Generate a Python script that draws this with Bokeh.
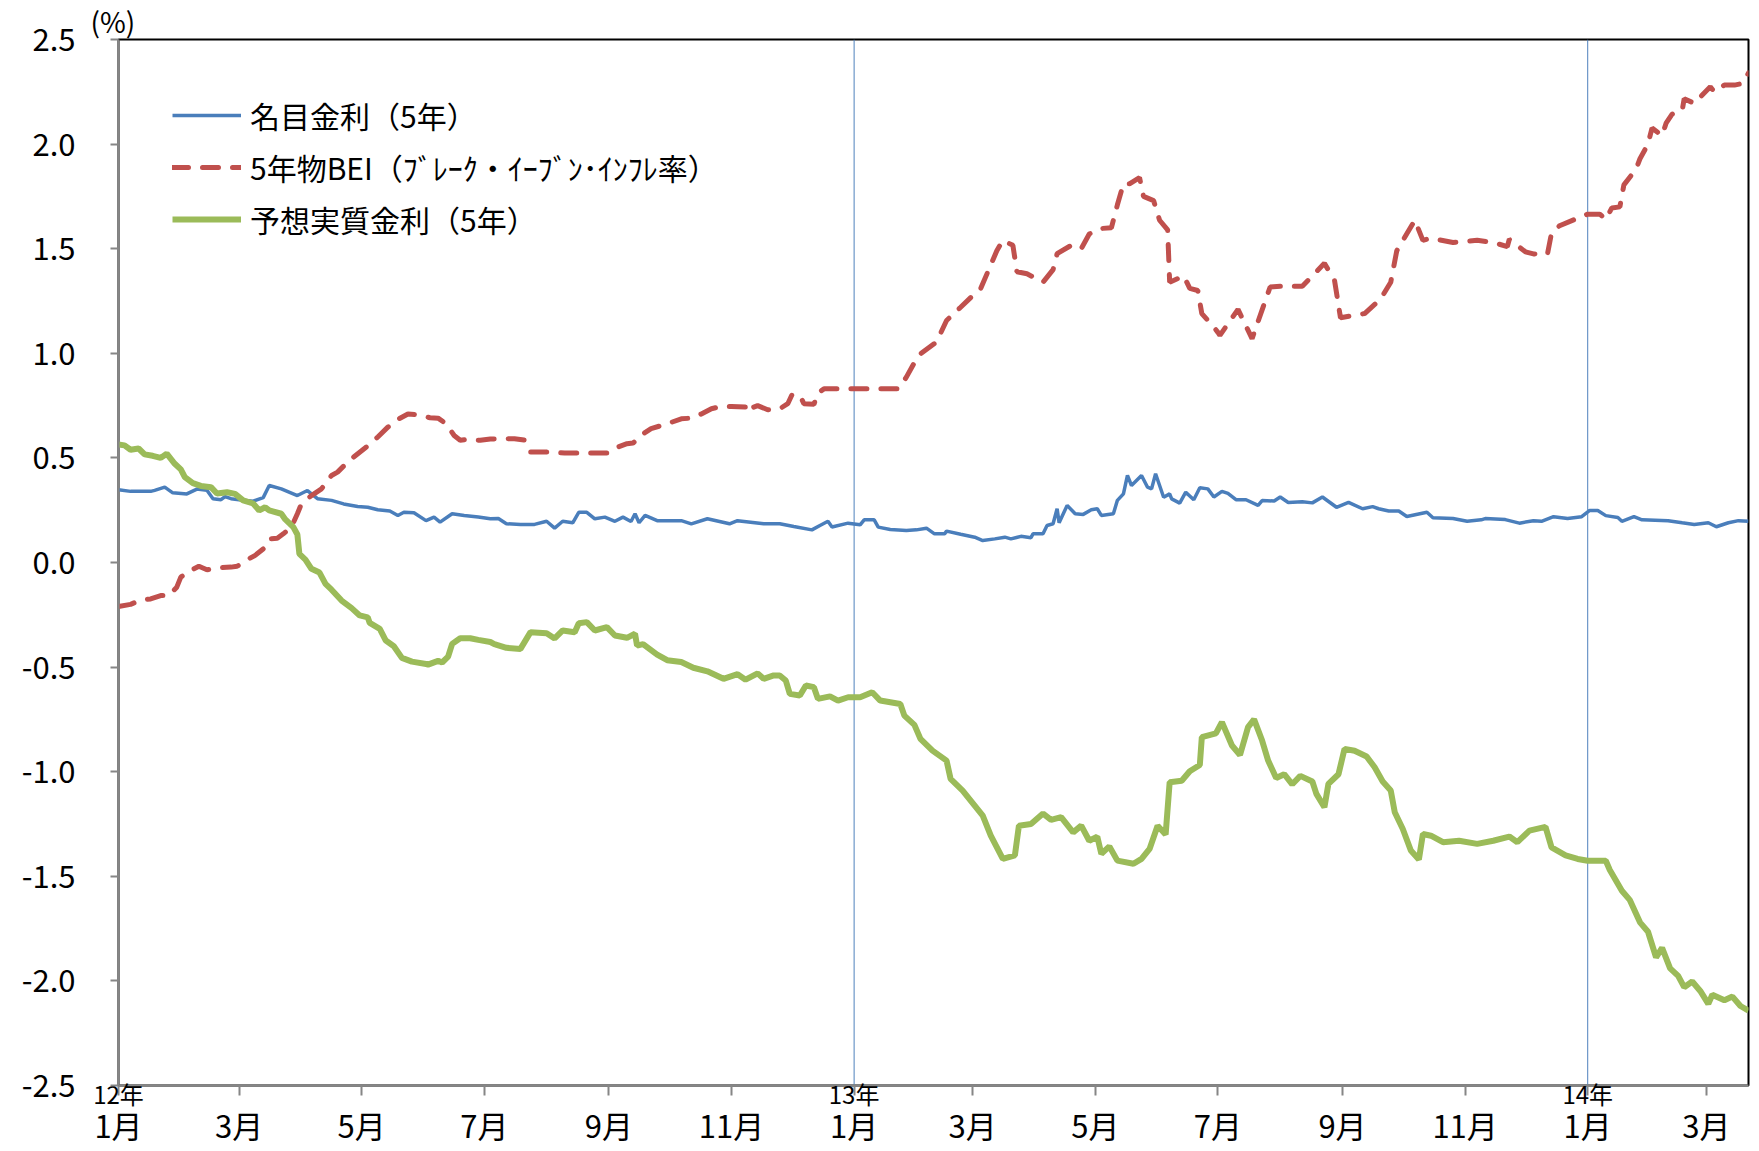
import pandas as pd
from bokeh.plotting import figure
from bokeh.models import Range1d, LinearAxis, FixedTicker, Span, NumeralTickFormatter
from bokeh.embed import file_html
from bokeh.resources import INLINE

# ---------------- data (days since 2012-01-01, %) ----------------
BASE_DATE = "2012-01-01"

nom_day = [0,6,16,18,23,27,34,39,44,47,51,53,56,62,67,72,75,81,89,94,
           99,106,112,119,124,129,135,139,142,147,153,157,160,166,172,179,185,189,193,200,
           207,213,217,221,226,229,233,237,242,247,251,255,257,259,262,268,280,285,293,304,
           308,321,329,336,345,349,353,355,363,369,371,376,378,384,392,397,402,406,411,412,
           419,426,430,436,441,444,449,454,455,460,462,465,467,468,472,476,480,484,487,489,
           495,497,500,502,504,509,512,514,516,520,523,524,528,531,535,538,542,545,549,552,
           556,561,567,569,575,578,582,589,594,599,606,612,619,624,627,632,637,641,651,654,
           664,671,678,680,690,697,704,708,714,721,728,732,736,740,746,748,754,758,771,778,
           784,791,795,801,806,811]
nom_val = [0.348,0.34,0.34,0.345,0.36,0.333,0.328,0.351,0.345,0.305,
           0.30,0.315,0.305,0.297,0.293,0.31,0.368,0.352,0.32,0.344,
           0.305,0.297,0.28,0.268,0.264,0.252,0.246,0.225,0.24,0.238,
           0.20,0.217,0.193,0.233,0.225,0.217,0.209,0.21,0.185,0.182,
           0.182,0.197,0.164,0.197,0.19,0.24,0.24,0.209,0.217,0.197,
           0.217,0.196,0.233,0.19,0.225,0.20,0.20,0.185,0.209,0.185,
           0.20,0.185,0.185,0.172,0.156,0.177,0.197,0.17,0.188,0.18,
           0.204,0.204,0.169,0.158,0.153,0.156,0.164,0.137,0.137,0.15,
           0.135,0.121,0.105,0.113,0.121,0.113,0.125,0.118,0.137,0.137,
           0.177,0.185,0.257,0.19,0.273,0.233,0.23,0.252,0.257,0.225,
           0.233,0.297,0.328,0.416,0.368,0.416,0.36,0.352,0.424,0.312,
           0.328,0.304,0.284,0.336,0.30,0.357,0.352,0.313,0.34,0.33,
           0.30,0.30,0.273,0.296,0.294,0.313,0.287,0.29,0.285,0.313,
           0.264,0.287,0.257,0.267,0.257,0.246,0.246,0.22,0.24,0.214,
           0.21,0.197,0.204,0.21,0.205,0.188,0.20,0.197,0.219,0.21,
           0.219,0.249,0.249,0.224,0.215,0.197,0.219,0.204,0.20,0.19,
           0.182,0.19,0.171,0.19,0.20,0.197]

bei_day = [0,6,11,16,21,25,29,31,36,40,44,49,56,59,64,68,72,75,79,82,
           86,89,91,96,101,106,109,114,117,123,125,129,134,139,144,149,155,159,163,167,
           170,174,180,185,197,202,205,213,222,232,243,246,253,256,261,265,273,280,285,290,
           295,300,305,312,313,314,318,323,329,333,335,339,341,346,348,351,366,388,392,398,
           407,412,419,426,429,433,437,440,445,447,452,460,465,467,474,479,483,488,494,497,
           500,503,508,510,515,518,522,523,530,533,537,539,545,547,548,557,564,573,578,589,
           600,605,608,620,628,633,636,645,649,653,664,676,684,691,692,700,704,711,713,717,
           727,731,737,740,743,747,749,755,757,761,763,768,770,773,778,779,784,787,792,794,
           799,804,808,811]
bei_val = [-0.21,-0.20,-0.18,-0.174,-0.158,-0.158,-0.118,-0.07,-0.038,-0.018,
           -0.035,-0.026,-0.022,-0.018,0.013,0.034,0.065,0.113,0.116,0.137,
           0.169,0.233,0.28,0.32,0.352,0.416,0.432,0.48,0.504,0.55,
           0.565,0.60,0.647,0.684,0.71,0.706,0.692,0.69,0.663,0.607,
           0.584,0.589,0.584,0.59,0.592,0.585,0.528,0.528,0.523,0.523,
           0.523,0.543,0.568,0.571,0.615,0.64,0.663,0.687,0.69,0.71,
           0.735,0.746,0.746,0.743,0.759,0.735,0.75,0.73,0.735,0.759,
           0.80,0.80,0.759,0.756,0.81,0.83,0.83,0.83,0.886,0.99,
           1.054,1.157,1.22,1.285,1.31,1.40,1.49,1.54,1.516,1.39,
           1.38,1.34,1.40,1.476,1.516,1.50,1.57,1.596,1.60,1.71,
           1.81,1.81,1.84,1.75,1.73,1.636,1.59,1.34,1.37,1.31,
           1.30,1.19,1.125,1.10,1.086,1.21,1.07,1.317,1.32,1.32,
           1.43,1.35,1.17,1.19,1.26,1.34,1.49,1.636,1.54,1.55,
           1.53,1.54,1.53,1.51,1.545,1.485,1.475,1.475,1.575,1.61,
           1.65,1.665,1.665,1.64,1.695,1.70,1.805,1.88,1.93,2.0,
           2.077,2.04,2.10,2.143,2.16,2.217,2.195,2.225,2.274,2.25,
           2.282,2.282,2.29,2.34]

real_day = [0,3,6,10,13,17,21,24,28,31,33,37,41,46,49,54,58,62,67,70,
            73,75,81,83,87,89,90,93,96,100,103,106,111,116,120,124,125,130,133,137,
            141,146,153,154,159,161,164,166,170,175,179,185,187,193,200,205,213,217,221,227,
            229,233,237,243,247,253,257,258,261,268,273,280,286,293,301,308,312,318,321,326,
            329,332,334,339,342,346,348,354,358,363,369,375,379,389,391,396,399,405,412,414,
            420,426,430,434,440,446,448,454,460,464,469,475,479,483,487,489,493,497,505,509,
            513,517,521,523,529,533,538,539,546,549,554,558,562,565,569,572,576,580,584,588,
            594,596,600,602,607,610,615,621,625,629,633,635,639,643,647,649,653,659,667,676,
            684,692,696,702,710,713,720,726,731,740,742,748,752,757,761,765,768,772,776,779,
            783,787,791,793,799,803,807,811]
real_val = [0.564,0.56,0.539,0.545,0.517,0.51,0.50,0.52,0.472,0.445,
            0.408,0.379,0.366,0.36,0.33,0.336,0.328,0.297,0.282,0.249,
            0.264,0.249,0.233,0.206,0.169,0.134,0.041,0.014,-0.03,-0.048,
            -0.102,-0.13,-0.182,-0.218,-0.253,-0.262,-0.289,-0.317,-0.373,-0.40,
            -0.456,-0.474,-0.485,-0.488,-0.47,-0.478,-0.45,-0.389,-0.362,-0.362,
            -0.37,-0.38,-0.39,-0.408,-0.413,-0.333,-0.338,-0.363,-0.325,-0.333,
            -0.29,-0.285,-0.325,-0.309,-0.349,-0.36,-0.34,-0.397,-0.39,-0.44,
            -0.467,-0.476,-0.503,-0.52,-0.556,-0.534,-0.56,-0.53,-0.556,-0.54,
            -0.54,-0.564,-0.628,-0.636,-0.588,-0.596,-0.652,-0.64,-0.66,-0.644,
            -0.644,-0.62,-0.66,-0.676,-0.732,-0.776,-0.843,-0.899,-0.947,-1.034,
            -1.09,-1.162,-1.21,-1.305,-1.417,-1.40,-1.258,-1.25,-1.20,-1.23,
            -1.217,-1.29,-1.258,-1.33,-1.31,-1.393,-1.357,-1.425,-1.44,-1.417,
            -1.369,-1.258,-1.30,-1.05,-1.043,-0.998,-0.968,-0.835,-0.817,-0.763,
            -0.875,-0.92,-0.787,-0.75,-0.851,-0.947,-1.03,-1.012,-1.06,-1.02,
            -1.047,-1.106,-1.17,-1.058,-1.012,-0.891,-0.90,-0.927,-0.979,-1.047,
            -1.09,-1.194,-1.274,-1.377,-1.42,-1.298,-1.306,-1.337,-1.33,-1.345,
            -1.33,-1.31,-1.337,-1.282,-1.264,-1.362,-1.40,-1.417,-1.426,-1.426,
            -1.47,-1.569,-1.614,-1.72,-1.765,-1.887,-1.842,-1.94,-1.976,-2.03,
            -2.003,-2.048,-2.11,-2.066,-2.092,-2.075,-2.12,-2.142]

tick_dates = ["2012-01-01","2012-03-01","2012-05-01","2012-07-01","2012-09-01","2012-11-01",
              "2013-01-01","2013-03-01","2013-05-01","2013-07-01","2013-09-01","2013-11-01",
              "2014-01-01","2014-03-01"]
month_labels = ["1月","3月","5月","7月","9月","11月","1月","3月","5月","7月","9月","11月","1月","3月"]
year_labels = ["12年","","","","","","13年","","","","","","14年",""]
y_ticks = [-2.5,-2.0,-1.5,-1.0,-0.5,0.0,0.5,1.0,1.5,2.0,2.5]
unit_label = "(%)"

series_names = ["名目金利（5年）", "5年物BEI（ﾌﾞﾚｰｸ・ｲｰﾌﾞﾝ･ｲﾝﾌﾚ率）", "予想実質金利（5年）"]

# ---------------- build ----------------
FONT = "Noto Sans CJK JP"
base = pd.Timestamp(BASE_DATE)
tick_days = [(pd.Timestamp(d) - base).days for d in tick_dates]
x_end = max(max(nom_day), max(bei_day), max(real_day))
y_lo, y_hi = min(y_ticks), max(y_ticks)

p = figure(width=1759, height=1151, output_backend="svg", toolbar_location=None,
           x_range=Range1d(0, x_end), y_range=Range1d(y_lo, y_hi),
           min_border_left=118, min_border_right=11, min_border_top=39, min_border_bottom=66,
           title=unit_label, background_fill_color="white", border_fill_color="white")

p.title.text_font = FONT
p.title.text_font_size = "28px"
p.title.text_font_style = "normal"
p.title.text_color = "black"
p.title.align = "left"
p.title.offset = -28
p.title.standoff = -3

p.xgrid.visible = False
p.ygrid.visible = False
p.outline_line_color = "black"
p.outline_line_width = 2

GREY = "#868686"

# year-label axis (with tick marks)
xa = p.xaxis[0]
xa.ticker = FixedTicker(ticks=tick_days)
xa.major_label_overrides = {d: l for d, l in zip(tick_days, year_labels)}
xa.major_label_text_font = FONT
xa.major_label_text_font_size = "24px"
xa.major_label_text_color = "black"
xa.major_label_standoff = -20
xa.major_tick_out = 10
xa.major_tick_in = 0
xa.minor_tick_out = 0
xa.minor_tick_in = 0
xa.axis_line_color = GREY
xa.axis_line_width = 2
xa.major_tick_line_color = GREY
xa.major_tick_line_width = 2

# month-label axis
ma = LinearAxis(ticker=FixedTicker(ticks=tick_days),
                major_label_overrides={d: l for d, l in zip(tick_days, month_labels)},
                axis_line_color=None, major_tick_line_color=None, minor_tick_line_color=None,
                major_tick_out=0, major_tick_in=0, minor_tick_out=0, minor_tick_in=0,
                major_label_text_font=FONT, major_label_text_font_size="31px",
                major_label_text_color="black", major_label_standoff=-12)
p.add_layout(ma, "below")

ya = p.yaxis[0]
ya.ticker = FixedTicker(ticks=y_ticks)
ya.formatter = NumeralTickFormatter(format="0.0")
ya.major_label_text_font = FONT
ya.major_label_text_font_size = "31px"
ya.major_label_text_color = "black"
ya.major_label_standoff = 35
ya.major_tick_out = 8
ya.major_tick_in = 0
ya.minor_tick_out = 0
ya.minor_tick_in = 0
ya.axis_line_color = GREY
ya.axis_line_width = 2
ya.major_tick_line_color = GREY
ya.major_tick_line_width = 2

for d, l in zip(tick_days, year_labels):
    if l and d > 0:
        p.add_layout(Span(location=d, dimension="height", line_color="#4f81bd",
                          line_width=1, level="underlay"))

p.line(nom_day, nom_val, line_color="#4a7ebb", line_width=3.5, legend_label=series_names[0])
p.line(bei_day, bei_val, line_color="#c0504d", line_width=5, line_dash="16 14",
       line_cap="round", legend_label=series_names[1])
p.line(real_day, real_val, line_color="#9bbb59", line_width=6, legend_label=series_names[2])

lg = p.legend[0]
lg.location = "top_left"
lg.margin = 54
lg.padding = 10
lg.spacing = 8
lg.glyph_width = 69
lg.glyph_height = 30
lg.label_height = 30
lg.label_standoff = 9
lg.label_text_font = FONT
lg.label_text_font_size = "30px"
lg.label_text_color = "black"
lg.border_line_color = None
lg.background_fill_alpha = 0

open("out.html", "w").write(file_html(p, INLINE))
